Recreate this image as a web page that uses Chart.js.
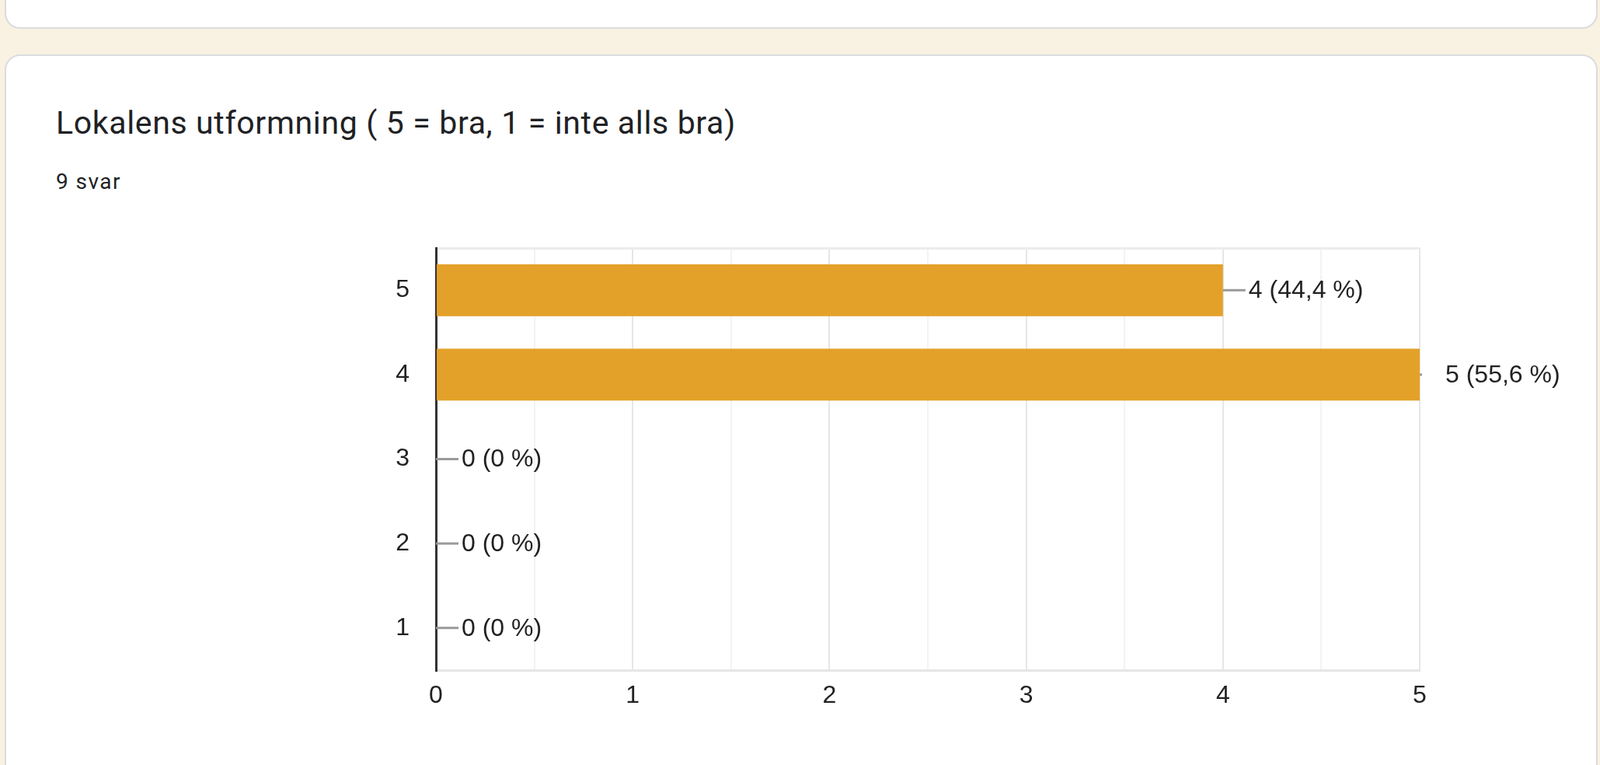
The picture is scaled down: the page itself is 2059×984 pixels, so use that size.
<!DOCTYPE html>
<html>
<head>
<meta charset="utf-8">
<script src="https://cdn.jsdelivr.net/npm/chart.js@4.4.1/dist/chart.umd.min.js"></script>
<style>
  html, body { margin:0; padding:0; }
  body { width:2059px; height:984px; background:#f9f1e1; position:relative; overflow:hidden; font-family: Roboto, "Liberation Sans", sans-serif; }
  .card { position:absolute; background:#fff; border:2px solid #dadce0; border-radius:20px; box-sizing:border-box; }
  #card1 { left:6px; right:3px; top:-60px; height:97px; }
  #card2 { left:6px; right:3px; top:70px; height:980px; }
  .txt { position:absolute; white-space:nowrap; color:#202124; line-height:1; font-family: Roboto, sans-serif; }
  #title { left:72px; top:138px; font-size:41px; }
  #sub { left:72px; top:220px; font-size:28px; }
  #chart { position:absolute; left:0; top:0; }
</style>
</head>
<body>
<div class="card" id="card1"></div>
<div class="card" id="card2"></div>
<div class="txt" id="title">Lokalens utformning ( 5 = bra, 1 = inte alls bra)</div>
<div class="txt" id="sub">9 svar</div>
<canvas id="chart" width="2059" height="984"></canvas>
<script>
const categories = ['5', '4', '3', '2', '1'];
const counts = [4, 5, 0, 0, 0];
const xTickValues = [0, 1, 2, 3, 4, 5];
const titleText = 'Lokalens utformning ( 5 = bra, 1 = inte alls bra)';
const responsesText = '9 svar';

document.getElementById('title').textContent = titleText;
document.getElementById('sub').textContent = responsesText;

function fitWidth(id, target) {
  const el = document.getElementById(id);
  el.style.letterSpacing = '0px';
  const w = el.getBoundingClientRect().width;
  const n = el.textContent.length;
  el.style.letterSpacing = ((target - w) / n) + 'px';
}

const total = counts.reduce((a, b) => a + b, 0);
function labelFor(v) {
  const p = Math.round(v / total * 1000) / 10;
  return v + ' (' + String(p).replace('.', ',') + ' %)';
}

const valueLabels = {
  id: 'valueLabels',
  afterDatasetsDraw(chart) {
    const ctx = chart.ctx;
    const meta = chart.getDatasetMeta(0);
    const area = chart.chartArea;
    ctx.save();
    meta.data.forEach((el, i) => {
      const x = el.x, y = el.y;
      ctx.strokeStyle = '#9a9a9a';
      ctx.lineWidth = 3;
      ctx.beginPath();
      ctx.moveTo(x, y);
      ctx.lineTo(Math.min(x + 29, area.right + 3), y);
      ctx.stroke();
      ctx.fillStyle = '#222222';
      ctx.font = '32px "Liberation Sans", Arial, sans-serif';
      ctx.textAlign = 'left';
      ctx.textBaseline = 'middle';
      ctx.fillText(labelFor(counts[i]), x + 33, y + 1);
    });
    ctx.restore();
  }
};

function build() {
  fitWidth('title', 875);
  fitWidth('sub', 84);
  new Chart(document.getElementById('chart'), {
    type: 'bar',
    data: {
      labels: categories,
      datasets: [{
        data: counts,
        backgroundColor: '#e4a12a',
        borderWidth: 0,
        categoryPercentage: 1,
        barPercentage: 0.614
      }]
    },
    options: {
      indexAxis: 'y',
      responsive: false,
      animation: false,
      layout: { padding: { left: 0, right: 232, top: 319, bottom: 0 } },
      plugins: { legend: { display: false }, tooltip: { enabled: false }, title: { display: false } },
      scales: {
        x: {
          type: 'linear',
          min: 0, max: 5,
          afterFit(scale) { scale.height = 122; },
          afterBuildTicks(scale) {
            const t = [];
            xTickValues.forEach((v, i) => {
              t.push({ value: v });
              if (i < xTickValues.length - 1) t.push({ value: v + 0.5 });
            });
            scale.ticks = t;
          },
          ticks: {
            autoSkip: false, maxRotation: 0, padding: 14,
            color: '#222222',
            font: { family: '"Liberation Sans", Arial, sans-serif', size: 32 },
            callback: (v) => (xTickValues.includes(v) ? String(v) : '')
          },
          grid: {
            drawTicks: false,
            lineWidth: 2,
            color: (c) => {
              const v = c.tick ? c.tick.value : 0;
              if (v === 0) return 'rgba(0,0,0,0)';
              return Number.isInteger(v) ? '#e6e6e6' : '#f3f3f3';
            }
          },
          border: { display: true, color: '#e6e6e6', width: 3 }
        },
        y: {
          afterFit(scale) { scale.width = 561; },
          ticks: {
            padding: 34,
            color: '#222222',
            font: { family: '"Liberation Sans", Arial, sans-serif', size: 32 }
          },
          grid: {
            drawTicks: false,
            offset: true,
            lineWidth: 3,
            color: (c) => (c.index === 0 ? '#ececec' : 'rgba(0,0,0,0)')
          },
          border: { display: true, color: '#333333', width: 3 }
        }
      }
    },
    plugins: [valueLabels]
  });
}

if (document.fonts && document.fonts.ready) {
  document.fonts.ready.then(build);
} else {
  build();
}
</script>
</body>
</html>
